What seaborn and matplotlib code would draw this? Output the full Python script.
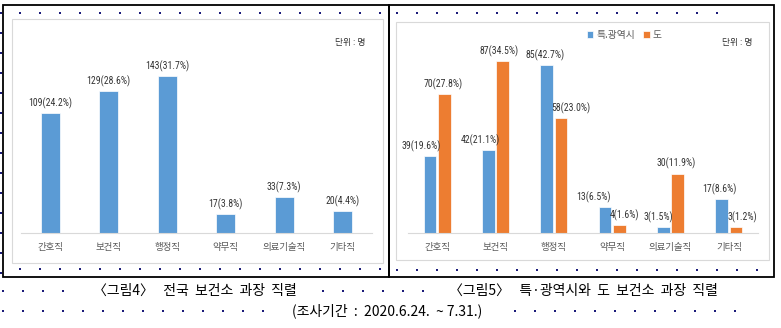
import matplotlib
matplotlib.use("Agg")
import matplotlib.pyplot as plt
import seaborn as sns
import pandas as pd
import numpy as np
from matplotlib.patches import Rectangle
from matplotlib import font_manager

# ---------------- data ----------------
categories = ['간호직', '보건직', '행정직', '약무직', '의료기술직', '기타직']
national = [109, 129, 143, 17, 33, 20]
national_pct = [24.2, 28.6, 31.7, 3.8, 7.3, 4.4]
series_names = ['특.광역시', '도']
metro = [39, 42, 85, 13, 3, 17]
metro_pct = [19.6, 21.1, 42.7, 6.5, 1.5, 8.6]
province = [70, 87, 58, 4, 30, 3]
province_pct = [27.8, 34.5, 23.0, 1.6, 11.9, 1.2]
unit_text = '단위 : 명'
caption_left = '〈그림4〉   전국  보건소  과장  직렬'
caption_right = '〈그림5〉   특·광역시와  도  보건소  과장  직렬'
caption_period = '(조사기간  :  2020.6.24.  ~ 7.31.)'

# label horizontal nudges (px) as in the reference layout
metro_dx = [-9, -8, -1, -11, -5, -2]
province_dx = [-1, -4, 10, 5, -2, 6]

BLUE = '#5B9BD5'
ORANGE = '#ED7D31'
LABEL_C = '#333333'
TICK_C = '#595959'

sns.set_theme(style='white')
plt.rcParams['font.family'] = ['Noto Sans CJK KR', 'DejaVu Sans']

available = {f.name for f in font_manager.fontManager.ttflist}
NUM_FONT = [f for f in ['Roboto Condensed', 'Liberation Sans Narrow', 'Noto Sans CJK KR']
            if f in available] + ['DejaVu Sans']
NUM_SIZE = 7 if NUM_FONT[0] in ('Roboto Condensed', 'Liberation Sans Narrow') else 6.3

W, H = 781, 328
fig = plt.figure(figsize=(W / 100, H / 100), dpi=100)
fig.patch.set_facecolor('white')


def rect(x0, y0, x1, y1):
    return [x0 / W, 1 - y1 / H, (x1 - x0) / W, (y1 - y0) / H]


# background / frame layer in pixel coordinates
bg = fig.add_axes([0, 0, 1, 1], zorder=0)
bg.set_xlim(0, W)
bg.set_ylim(H, 0)
bg.axis('off')

# document grid dots
dot_c = '#1c1c7a'
dots = []
dots += [(x, 13) for x in np.arange(20, 381, 20)]
dots += [(x, 269) for x in np.arange(20, 381, 20)]
dots += [(1, y) for y in np.arange(13, 274, 20)]
dots += [(x, 13) for x in np.arange(397, 718, 20)]
dots += [(x, 270) for x in np.arange(397, 758, 20)]
dots += [(x, 291) for x in np.arange(3, 70, 20)]
dots += [(x, 291) for x in np.arange(323, 436, 20)]
dots += [(x, 311) for x in np.arange(3, 266, 20)]
dots += [(x, 311) for x in np.arange(515, 740, 20)]
dx_, dy_ = zip(*dots)
bg.scatter(dx_, dy_, s=0.9, c=dot_c, marker='s', linewidths=0, antialiased=False)

# outer black boxes
for x0, x1 in [(3, 389), (389, 774)]:
    bg.add_patch(Rectangle((x0, 5), x1 - x0, 272, fill=False, ec='black', lw=1.3))
# inner chart borders
bg.add_patch(Rectangle((12, 19), 371, 244, fill=False, ec='#d9d9d9', lw=0.8))
bg.add_patch(Rectangle((396, 22), 373, 238, fill=False, ec='#d9d9d9', lw=0.8))

# unit labels
bg.text(350, 42, unit_text, fontsize=6.3, color=LABEL_C, ha='center', va='center')
bg.text(737, 42, unit_text, fontsize=6.3, color=LABEL_C, ha='center', va='center')

# captions
bg.text(195, 291, caption_left, fontsize=10, color='black', ha='center', va='center')
bg.text(583, 291, caption_right, fontsize=10, color='black', ha='center', va='center')
bg.text(387, 311, caption_period, fontsize=10, color='black', ha='center', va='center')


def style_axis(ax, ymax):
    ax.set_ylim(0, ymax)
    ax.set_facecolor('none')
    for s in ['top', 'right', 'left']:
        ax.spines[s].set_visible(False)
    ax.spines['bottom'].set_color('#d9d9d9')
    ax.spines['bottom'].set_linewidth(0.8)
    ax.set_yticks([])
    ax.set_xlabel('')
    ax.set_ylabel('')
    ax.tick_params(axis='x', length=0, pad=7, labelsize=6.8, labelcolor=TICK_C)


# ---------------- left chart ----------------
df1 = pd.DataFrame({'category': categories, 'count': national})
ax1 = fig.add_axes(rect(21, 57, 372, 233), zorder=2)
sns.barplot(data=df1, x='category', y='count', color=BLUE, saturation=1,
            width=0.32, ax=ax1, edgecolor='white', linewidth=0.5)
style_axis(ax1, 160)
for bar, v, p in zip(ax1.containers[0], national, national_pct):
    ax1.annotate(f'{v}({p:.1f}%)', (bar.get_x() + bar.get_width() / 2, bar.get_height()),
                 xytext=(0, 3), textcoords='offset points', ha='center', va='bottom',
                 fontsize=NUM_SIZE, color=LABEL_C, family=NUM_FONT)

# ---------------- right chart ----------------
df2 = pd.DataFrame({
    'category': categories * 2,
    'count': metro + province,
    'region': [series_names[0]] * len(categories) + [series_names[1]] * len(categories),
})
ax2 = fig.add_axes(rect(408, 45, 758, 233), zorder=2)
sns.barplot(data=df2, x='category', y='count', hue='region', hue_order=series_names,
            palette=[BLUE, ORANGE], saturation=1, width=0.5, gap=0.13, ax=ax2,
            edgecolor='white', linewidth=0.5)
style_axis(ax2, 95)
for cont, vals, pcts, dxs in zip(ax2.containers, [metro, province],
                                 [metro_pct, province_pct], [metro_dx, province_dx]):
    for bar, v, p, dx in zip(cont, vals, pcts, dxs):
        ax2.annotate(f'{v}({p:.1f}%)', (bar.get_x() + bar.get_width() / 2, bar.get_height()),
                     xytext=(dx * 0.72, 3), textcoords='offset points', ha='center',
                     va='bottom', fontsize=NUM_SIZE, color=LABEL_C, family=NUM_FONT)

sns.move_legend(ax2, 'center', bbox_to_anchor=(624 / W, 1 - 35 / H),
                bbox_transform=fig.transFigure, ncol=2, title=None, frameon=False,
                fontsize=7, handlelength=0.7, handleheight=0.7, handletextpad=0.3,
                columnspacing=0.8)
for t in ax2.get_legend().get_texts():
    t.set_color(TICK_C)

fig.savefig('out.png', dpi=100, facecolor='white')
